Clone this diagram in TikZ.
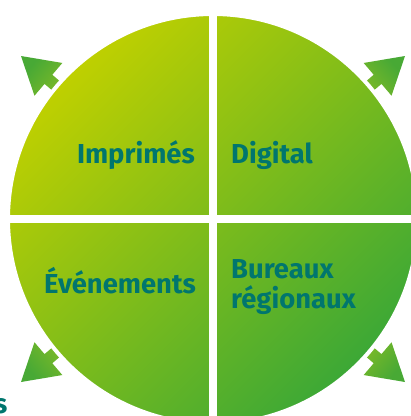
\documentclass[tikz,border=0pt]{standalone}
\usepackage{fontspec}
\setmainfont{Fira Sans}
\definecolor{gYellow}{HTML}{BFD000}
\definecolor{gGreen}{HTML}{3CA836}
\definecolor{aDark}{HTML}{48A935}
\definecolor{aLight}{HTML}{A8C81C}
\definecolor{txtTeal}{HTML}{00766E}
\tikzset{
  lbl/.style={font=\fontsize{27.4}{31}\selectfont\bfseries, text=txtTeal, inner sep=0pt},
  arrowshape/.style={left color=aLight, right color=aDark},
}
\newcommand{\myarrow}[4]{%
  \begin{scope}[shift={(#1,#2)}, rotate=#3]
    \shade[arrowshape, shading angle=#4] (0,0) -- (-36,21.5) -- (-36,6) -- (-90,6) -- (-90,-6) -- (-36,-6) -- (-36,-21.5) -- cycle;
  \end{scope}}
\begin{document}
\begin{tikzpicture}[x=1pt,y=-1pt]
\useasboundingbox (0,0) rectangle (411,416);
\clip (0,0) rectangle (411,416);
\coordinate (c) at (213,219);
\myarrow{21}{56}{139.6}{229.6}
\myarrow{405}{56}{40.4}{130.4}
\myarrow{21}{382}{-139.6}{-49.6}
\myarrow{405}{382}{-40.4}{49.6}
\shade[left color=gYellow, right color=gGreen, shading angle=45] (c) circle[radius=205];
\draw[white, line width=4pt] (c) circle[radius=205];
\fill[white] (209,0) rectangle (217,416);
\fill[white] (0,214.5) rectangle (411,222.5);
\node[lbl, anchor=base east] (impr) at (195,163) {Imprimés};
\node[lbl, anchor=base west] (dig) at (231,163) {Digital};
\node[lbl, anchor=base east] (even) at (196,293) {Événements};
\node[lbl, anchor=base west] (bur) at (231,278) {Bureaux};
\node[lbl, anchor=base west] (reg) at (231,308) {régionaux};
\node[lbl, anchor=base east] (s) at (7.5,413) {s};
\end{tikzpicture}
\end{document}
